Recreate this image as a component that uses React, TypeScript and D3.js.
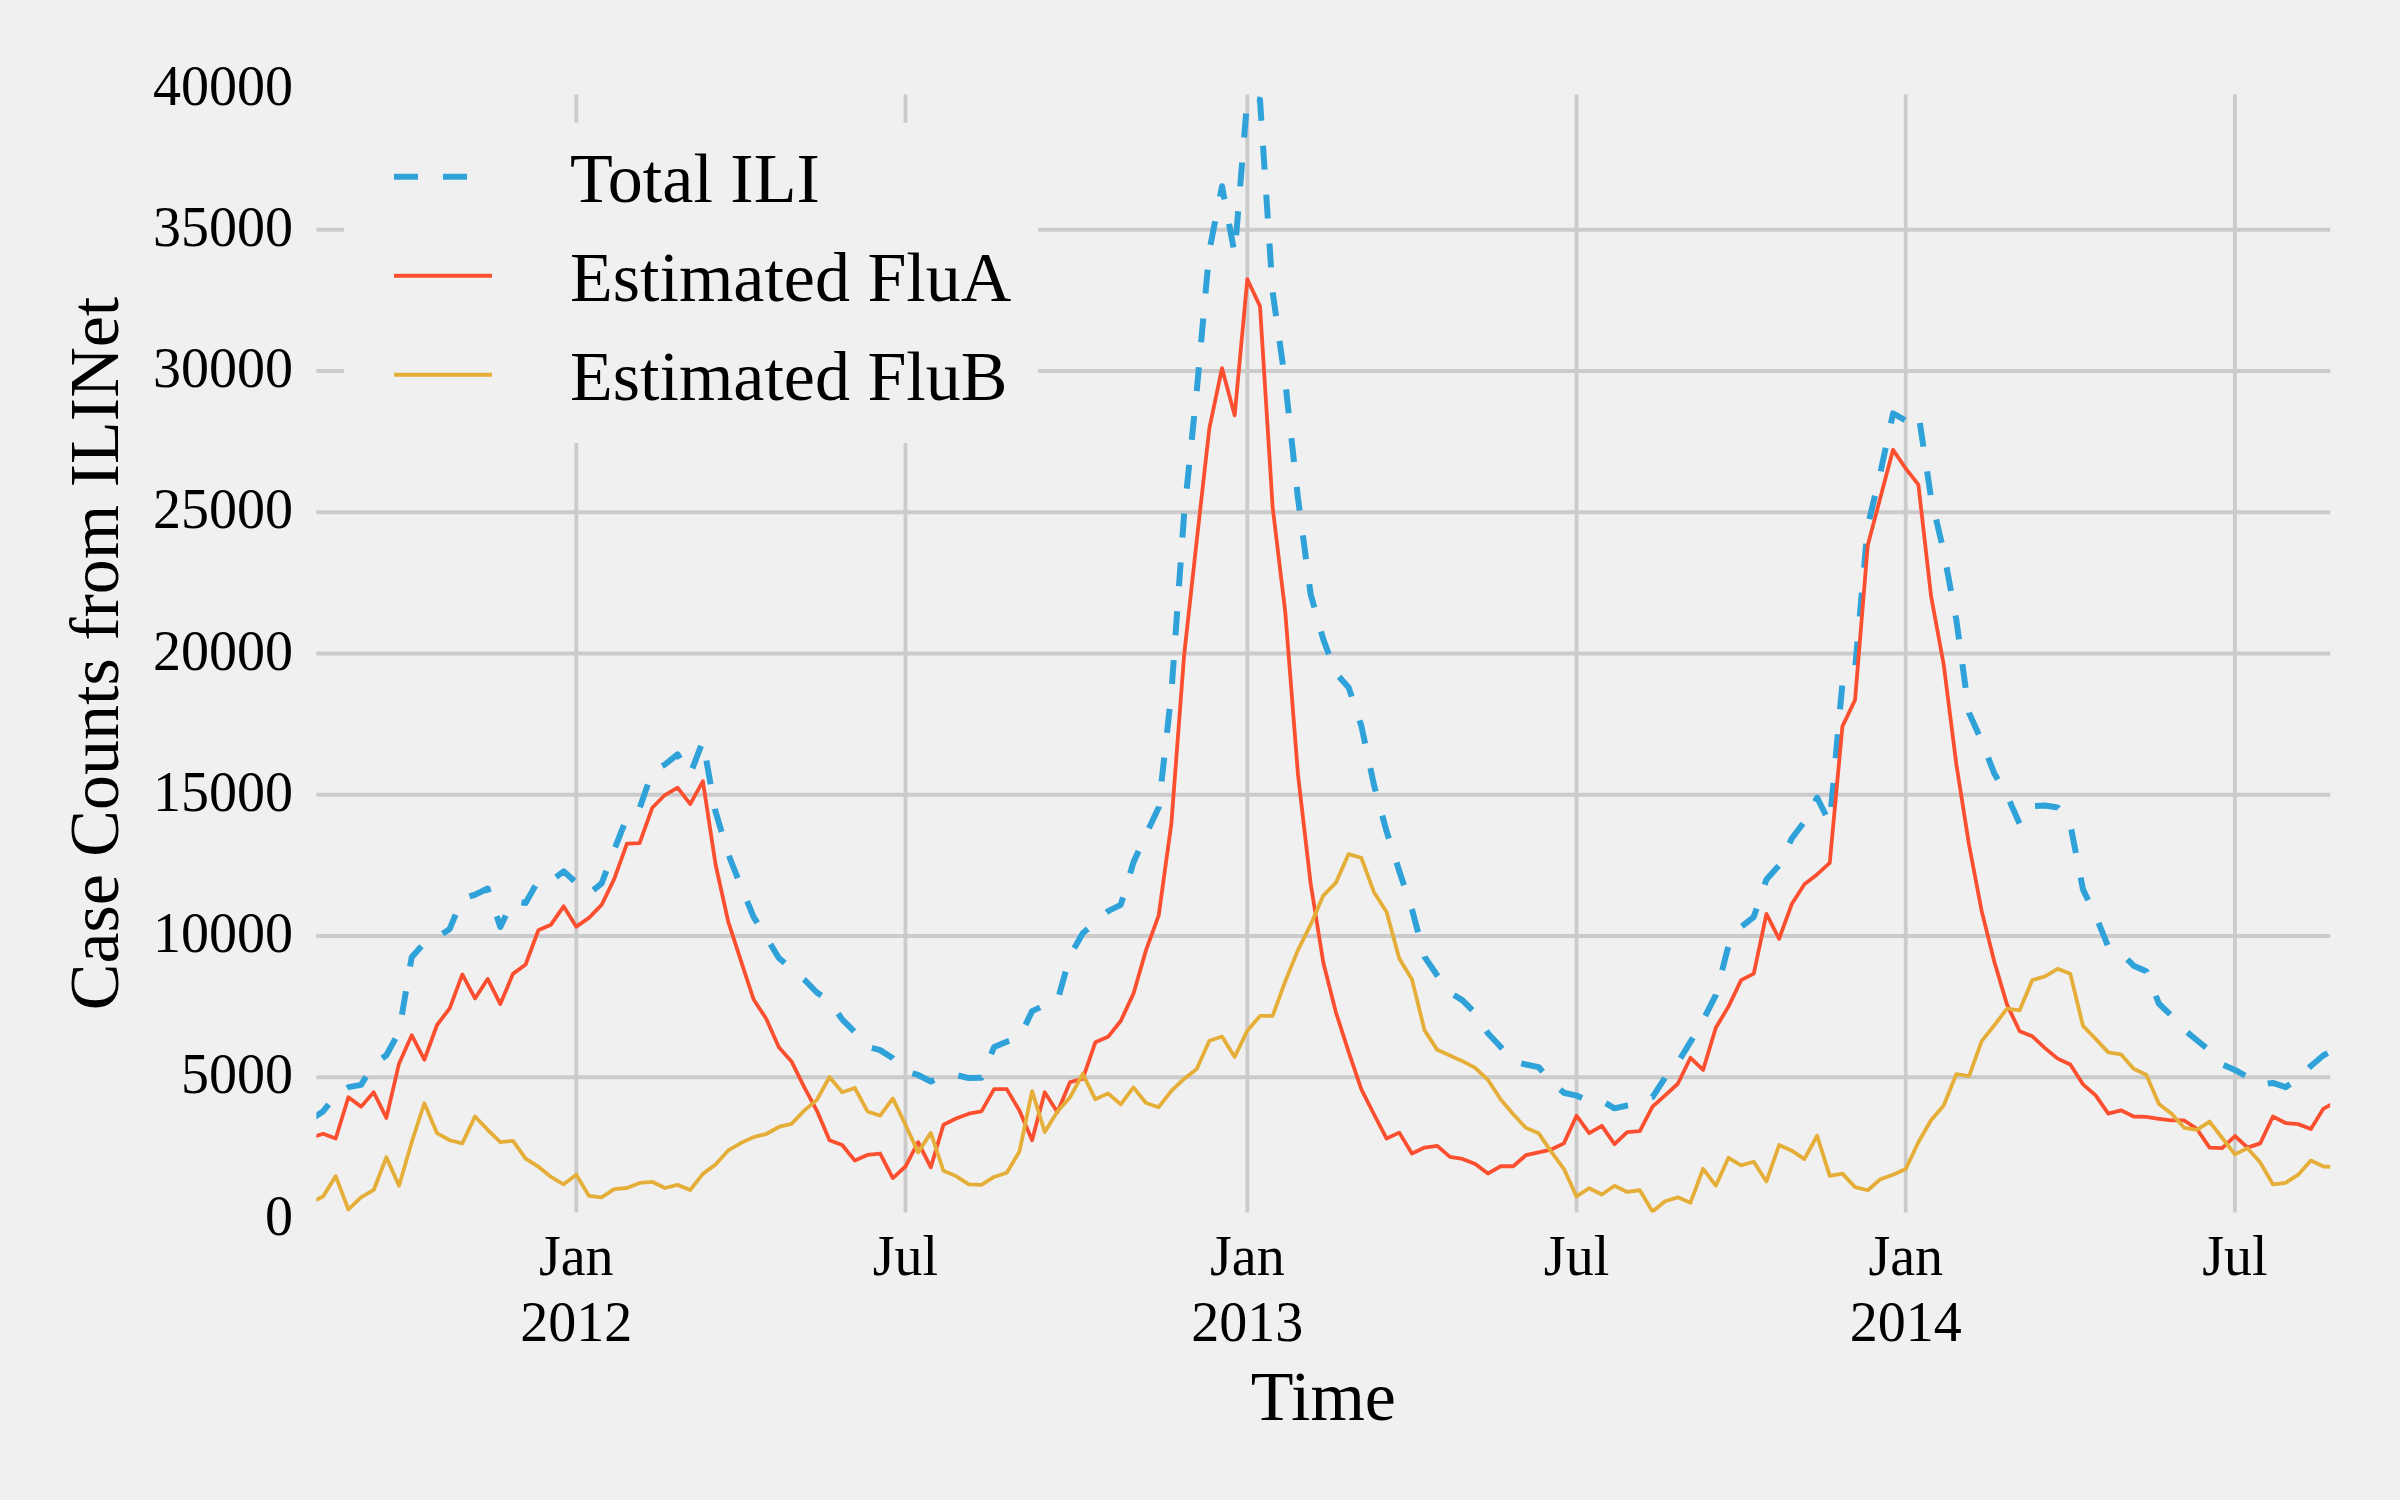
import React, { useEffect } from 'react';
import * as d3 from 'd3';

// Weekly periods (W-SUN), first week starts Monday 2011-08-01
const FIRST_WEEK = '2011-08-01';

const fluA: number[] = [
  2850, 3000, 2830, 4290, 3960, 4470, 3560, 5480, 6490, 5620,
  6850, 7440, 8640, 7790, 8480, 7590, 8660, 8990, 10200, 10400,
  11050, 10330, 10640, 11100, 12020, 13270, 13290, 14540, 14990, 15250,
  14670, 15480, 12530, 10510, 9130, 7760, 7070, 6060, 5560, 4650,
  3820, 2770, 2600, 2050, 2250, 2300, 1430, 1840, 2700, 1810,
  3320, 3540, 3710, 3790, 4580, 4580, 3820, 2770, 4470, 3760,
  4830, 4940, 6240, 6430, 6990, 7950, 9500, 10730, 13980, 19900,
  23980, 27970, 30100, 28430, 33250, 32290, 25180, 21450, 15720, 11860,
  9060, 7290, 5900, 4580, 3690, 2830, 3040, 2300, 2510, 2570,
  2180, 2110, 1930, 1590, 1850, 1850, 2240, 2340, 2440, 2660,
  3640, 3020, 3280, 2630, 3060, 3090, 3960, 4360, 4770, 5690,
  5260, 6750, 7500, 8440, 8670, 10780, 9900, 11130, 11830, 12180,
  12590, 17420, 18360, 23830, 25520, 27210, 26550, 25980, 22040, 19610,
  16070, 13230, 10880, 9090, 7570, 6630, 6450, 6030, 5660, 5450,
  4750, 4360, 3710, 3830, 3610, 3600, 3530, 3470, 3470, 3170,
  2510, 2490, 2920, 2510, 2660, 3610, 3380, 3340, 3170, 3890,
  4130,
];

const fluB: number[] = [
  560, 780, 1500, 320, 750, 1010, 2170, 1160, 2700, 4080,
  3020, 2770, 2660, 3610, 3140, 2700, 2750, 2120, 1840, 1470,
  1210, 1550, 800, 750, 1040, 1080, 1260, 1300, 1080, 1190,
  1010, 1580, 1910, 2410, 2670, 2880, 2990, 3240, 3350, 3820,
  4200, 5010, 4470, 4620, 3790, 3640, 4250, 3320, 2340, 3030,
  1690, 1500, 1210, 1190, 1470, 1620, 2370, 4510, 3060, 3790,
  4290, 5120, 4220, 4430, 4040, 4640, 4090, 3940, 4520, 4940,
  5290, 6290, 6440, 5720, 6650, 7170, 7170, 8400, 9500, 10400,
  11430, 11890, 12900, 12770, 11550, 10850, 9200, 8470, 6660, 5970,
  5770, 5570, 5330, 4910, 4220, 3690, 3210, 3020, 2370, 1760,
  780, 1070, 850, 1160, 940, 1000, 250, 610, 750, 560,
  1760, 1160, 2150, 1880, 2010, 1310, 2600, 2400, 2100, 2930,
  1510, 1590, 1110, 1000, 1390, 1550, 1750, 2700, 3480, 4000,
  5110, 5040, 6280, 6840, 7430, 7370, 8440, 8570, 8840, 8660,
  6820, 6360, 5880, 5810, 5300, 5090, 4050, 3710, 3210, 3140,
  3430, 2850, 2270, 2490, 1980, 1210, 1260, 1550, 2050, 1840,
  1830,
];

const totalILI: number[] = [
  3500, 3790, 4350, 4650, 4730, 5450, 5780, 6600, 9250, 9750,
  9950, 10250, 11330, 11460, 11680, 10320, 11250, 11170, 11960, 11950,
  12290, 11880, 11500, 11860, 13050, 14200, 14520, 15810, 16070, 16430,
  15730, 16900, 14400, 12900, 11770, 10680, 9960, 9220, 8840, 8460,
  8000, 7700, 7050, 6600, 6080, 5960, 5670, 5210, 5080, 4850,
  5050, 5080, 4970, 4980, 6070, 6260, 6400, 7340, 7550, 7700,
  9300, 10100, 10480, 10880, 11100, 12600, 13600, 14550, 18600, 24900,
  29270, 34260, 36540, 34150, 39650, 39600, 32800, 29600, 25500, 22100,
  20500, 19300, 18800, 17450, 15350, 13700, 12300, 10950, 9260, 8600,
  8000, 7720, 7270, 6560, 6080, 5560, 5450, 5360, 4850, 4450,
  4350, 4150, 4170, 3900, 4000, 4090, 4300, 4990, 5520, 6250,
  7020, 7910, 9650, 10320, 10680, 12000, 12500, 13450, 14050, 14900,
  14000, 18950, 19450, 24500, 26400, 28500, 28250, 28500, 25520, 23610,
  21180, 17900, 16900, 15750, 14980, 13970, 14600, 14620, 14550, 13950,
  11650, 10720, 9620, 9400, 8950, 8750, 7600, 7180, 6680, 6310,
  5950, 5450, 5260, 5010, 4750, 4800, 4650, 4950, 5400, 5780,
  6000,
];

const yTicks: number[] = [0, 5000, 10000, 15000, 20000, 25000, 30000, 35000, 40000];
const xTickDates: string[] = ['2012-01-01', '2012-07-01', '2013-01-01', '2013-07-01', '2014-01-01', '2014-07-01'];
const xTickMonths: string[] = ['Jan', 'Jul', 'Jan', 'Jul', 'Jan', 'Jul'];
const xTickYears: string[] = ['2012', '', '2013', '', '2014', ''];

const seriesNames: string[] = ['Total ILI', 'Estimated FluA', 'Estimated FluB'];
const seriesColors: string[] = ['#30a2da', '#fc4f30', '#e5ae38'];

export default function App() {
  useEffect(() => {
    document.body.style.margin = '0';
    document.body.style.background = '#f0f0f0';
  }, []);

  const W = 2400;
  const H = 1500;
  const left = 310.4;
  const right = 2336.2;
  const top = 88.5;
  const bottom = 1218.5;
  const font = '"Liberation Serif", "Times New Roman", Times, serif';
  const bg = '#f0f0f0';
  const grid = '#cbcbcb';

  const parse = d3.timeParse('%Y-%m-%d');
  const start = parse(FIRST_WEEK) as Date;
  const n = totalILI.length;

  const x = d3.scaleLinear().domain([0, n - 1]).range([left, right]);
  const y = d3.scaleLinear().domain([0, 40000]).range([bottom, top]);

  const lineGen = d3
    .line<number>()
    .x((_, i) => x(i))
    .y((d) => y(d));

  const xTicks = xTickDates.map((ds, i) => {
    const d = parse(ds) as Date;
    const idx = d3.timeMonday.count(start, d);
    return { idx, month: xTickMonths[i], year: xTickYears[i] };
  });

  const series = [totalILI, fluA, fluB];
  const widths = [6, 3.8, 3.8];
  const dashes = ['24 25', undefined, undefined];

  const legendRows = [176.7, 275.7, 374.7];

  return (
    <svg
      width={W}
      height={H}
      viewBox={`0 0 ${W} ${H}`}
      style={{ position: 'absolute', left: 0, top: 0, display: 'block' }}
    >
      <rect x={0} y={0} width={W} height={H} fill={bg} />
      <defs>
        <clipPath id="plotClip">
          <rect x={left} y={top} width={right - left} height={bottom - top} />
        </clipPath>
      </defs>

      {/* grid */}
      <g clipPath="url(#plotClip)">
        {yTicks.map((t) => (
          <line key={`gy${t}`} x1={left} x2={right} y1={y(t)} y2={y(t)} stroke={grid} strokeWidth={3.8} />
        ))}
        {xTicks.map((t, i) => (
          <line key={`gx${i}`} x1={x(t.idx)} x2={x(t.idx)} y1={top} y2={bottom} stroke={grid} strokeWidth={3.8} />
        ))}
      </g>

      {/* data lines */}
      <g clipPath="url(#plotClip)">
        {series.map((s, i) => (
          <path
            key={seriesNames[i]}
            d={lineGen(s) || ''}
            fill="none"
            stroke={seriesColors[i]}
            strokeWidth={widths[i]}
            strokeDasharray={dashes[i]}
            strokeLinejoin="round"
            strokeLinecap="butt"
          />
        ))}
      </g>

      {/* background-coloured spines */}
      <rect x={left} y={top} width={right - left} height={bottom - top} fill="none" stroke={bg} strokeWidth={12} />

      {/* y tick labels */}
      {yTicks.map((t) => (
        <text key={`ly${t}`} x={293} y={y(t) + 16} textAnchor="end" fontFamily={font} fontSize={56} fill="#000">
          {t}
        </text>
      ))}

      {/* x tick labels */}
      {xTicks.map((t, i) => (
        <g key={`lx${i}`}>
          <text x={x(t.idx)} y={1275} textAnchor="middle" fontFamily={font} fontSize={56} fill="#000">
            {t.month}
          </text>
          {t.year && (
            <text x={x(t.idx)} y={1341} textAnchor="middle" fontFamily={font} fontSize={56} fill="#000">
              {t.year}
            </text>
          )}
        </g>
      ))}

      {/* axis labels */}
      <text x={(left + right) / 2} y={1420} textAnchor="middle" fontFamily={font} fontSize={70} fill="#000">
        Time
      </text>
      <text
        transform={`translate(118, ${(top + bottom) / 2}) rotate(-90)`}
        textAnchor="middle"
        fontFamily={font}
        fontSize={70}
        fill="#000"
      >
        Case Counts from ILINet
      </text>

      {/* legend */}
      <rect x={344} y={122.7} width={694} height={320.3} fill={bg} />
      {seriesNames.map((name, i) => (
        <g key={`leg${i}`}>
          <line
            x1={394}
            x2={492}
            y1={legendRows[i]}
            y2={legendRows[i]}
            stroke={seriesColors[i]}
            strokeWidth={i === 0 ? 6 : 4}
            strokeDasharray={dashes[i]}
          />
          <text x={570} y={legendRows[i] + 25} fontFamily={font} fontSize={70} fill="#000">
            {name}
          </text>
        </g>
      ))}
    </svg>
  );
}
